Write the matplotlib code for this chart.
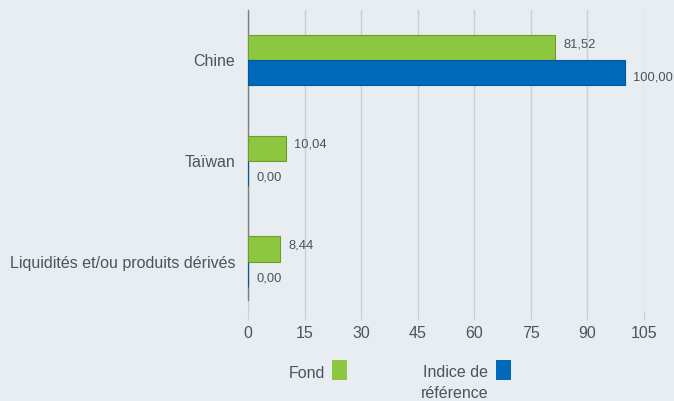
import matplotlib
matplotlib.use("Agg")
import matplotlib.pyplot as plt
from matplotlib.patches import Rectangle
import numpy as np

categories = ["Chine", "Taïwan", "Liquidités et/ou produits dérivés"]
fond = [81.52, 10.04, 8.44]
indice = [100.00, 0.00, 0.00]
xticks = [0, 15, 30, 45, 60, 75, 90, 105]
series_names = ["Fond", "Indice de\nréférence"]

BG = "#e8edf1"
GREEN = "#8dc63f"
GREEN_EDGE = "#6b9e2e"
BLUE = "#0069b9"
BLUE_EDGE = "#00579c"
TEXT = "#4a545e"
GRID = "#c9ced3"

plt.rcParams["font.family"] = ["Liberation Sans", "DejaVu Sans"]

fig = plt.figure(figsize=(6.74, 4.01), dpi=100, facecolor=BG)
ax = fig.add_axes([248/674, 1-312/401, (644-248)/674, (312-10)/401])
ax.set_facecolor(BG)

y = np.arange(len(categories))
h = 0.25
ax.barh(y - h/2, fond, height=h, color=GREEN, edgecolor=GREEN_EDGE, linewidth=0.8, zorder=3)
ax.barh(y + h/2, indice, height=h, color=BLUE, edgecolor=BLUE_EDGE, linewidth=0.8, zorder=3)

def fmt(v):
    return f"{v:.2f}".replace(".", ",")

for i, (f, b) in enumerate(zip(fond, indice)):
    ax.annotate(fmt(f), (f, y[i] - h/2), xytext=(6, 2.5), textcoords="offset points",
                va="center", ha="left", fontsize=9.3, color=TEXT)
    ax.annotate(fmt(b), (b, y[i] + h/2), xytext=(6, -3), textcoords="offset points",
                va="center", ha="left", fontsize=9.3, color=TEXT)

ax.set_xlim(0, 105)
ax.set_ylim(len(categories) - 0.5, -0.5)
ax.set_xticks(xticks)
ax.set_xticklabels([str(t) for t in xticks], fontsize=11.5, color=TEXT)
ax.set_yticks(y)
ax.set_yticklabels(categories, fontsize=11.5, color=TEXT)
ax.tick_params(axis="y", length=0, pad=9)
ax.tick_params(axis="x", length=6, color=GRID, pad=4, direction="out")
ax.grid(axis="x", color=GRID, linewidth=1, zorder=0)
for s in ["top", "right", "bottom"]:
    ax.spines[s].set_visible(False)
ax.spines["left"].set_color("#7a7f84")
ax.spines["left"].set_linewidth(1)
ax.spines["left"].set_bounds(len(categories) - 0.62, -0.5)

# legend
def px(x, yy):
    return x/674, 1 - yy/401

fig.text(*px(325, 373), series_names[0], ha="right", va="center", fontsize=11.5, color=TEXT)
fig.patches.append(Rectangle(px(332, 380), 15/674, 20/401, transform=fig.transFigure,
                             facecolor=GREEN, edgecolor="none"))
fig.text(*px(488, 383), series_names[1], ha="right", va="center", fontsize=11.5, color=TEXT,
         linespacing=1.5)
fig.patches.append(Rectangle(px(496, 380), 15/674, 20/401, transform=fig.transFigure,
                             facecolor=BLUE, edgecolor="none"))

fig.savefig("out.png", dpi=100, facecolor=BG)
